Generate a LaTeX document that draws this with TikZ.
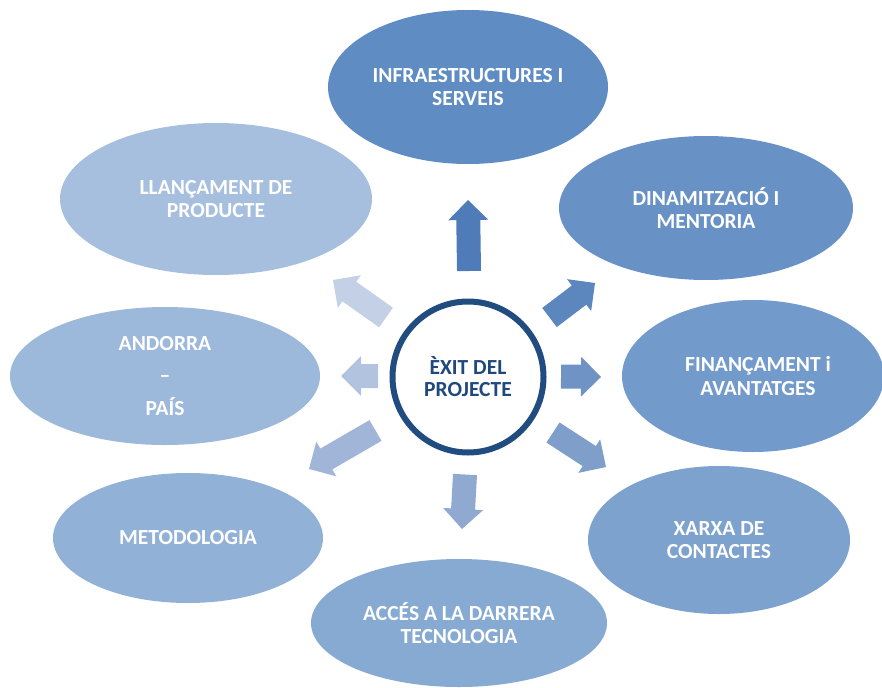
\documentclass[tikz,border=0pt]{standalone}
\usepackage{fontspec}
\setmainfont{Carlito}
\usepackage{tikz}
\usetikzlibrary{shapes.geometric}
\usetikzlibrary{calc}

\definecolor{infracol}{HTML}{5E8CC3}
\definecolor{dinamcol}{HTML}{6892C6}
\definecolor{financol}{HTML}{729ACA}
\definecolor{xarxacol}{HTML}{7DA2CE}
\definecolor{accescol}{HTML}{87AAD3}
\definecolor{metodcol}{HTML}{92B1D7}
\definecolor{andorcol}{HTML}{9CB8DA}
\definecolor{llanccol}{HTML}{A7BFDE}
\definecolor{upcol}{HTML}{4F7CB8}
\definecolor{urcol}{HTML}{5B86BE}
\definecolor{ricol}{HTML}{6F93C5}
\definecolor{lrcol}{HTML}{7F9ECA}
\definecolor{dncol}{HTML}{90A9D1}
\definecolor{llcol}{HTML}{A0B5D8}
\definecolor{lecol}{HTML}{B2C3E0}
\definecolor{ulcol}{HTML}{C3D0E6}
\definecolor{navy}{HTML}{214C80}
\definecolor{navytext}{HTML}{1F497D}

\tikzset{
    bubble/.style={ellipse, fill=#1, text=white, inner sep=0pt, align=center,
        font=\bfseries\fontsize{21.5}{23.5}\selectfont},
    goal/.style={circle, draw=navy, line width=6pt, fill=white, minimum size=151pt,
        inner sep=0pt, align=center, text=navytext,
        font=\bfseries\fontsize{21.5}{22}\selectfont}
}

% block arrow from #2 (tail) to #3 (tip)
\newcommand{\blockarrow}[3]{%
    \coordinate (#2h) at ($(#3)!20pt!(#2)$);
    \fill[#1] ($(#2)!12pt!90:(#3)$) -- ($(#2h)!12pt!90:(#3)$) -- ($(#2h)!20pt!90:(#3)$)
        -- (#3) -- ($(#2h)!20pt!-90:(#3)$) -- ($(#2h)!12pt!-90:(#3)$)
        -- ($(#2)!12pt!-90:(#3)$) -- cycle;
}

\begin{document}
\begin{tikzpicture}[x=1pt, y=-1pt]
    \useasboundingbox (0,0) rectangle (882,687);

    \node(infra) [bubble=infracol, minimum width=280pt, minimum height=154pt] at (468,87) {INFRAESTRUCTURES I\\SERVEIS};
    \node(dinam) [bubble=dinamcol, minimum width=294pt, minimum height=144pt] at (706,208) {DINAMITZACIÓ I\\MENTORIA};
    \node(finan) [bubble=financol, minimum width=262pt, minimum height=152pt] at (753,376) {\hspace{10pt}FINANÇAMENT i\\\hspace{10pt}AVANTATGES};
    \node(xarxa) [bubble=xarxacol, minimum width=262pt, minimum height=148pt] at (719,540) {XARXA DE\\CONTACTES};
    \node(acces) [bubble=accescol, minimum width=296pt, minimum height=128pt] at (459,623) {ACCÉS A LA DARRERA\\TECNOLOGIA};
    \node(metod) [bubble=metodcol, minimum width=270pt, minimum height=130pt] at (188,538) {METODOLOGIA};
    \node(andor) [bubble=andorcol, minimum width=310pt, minimum height=138pt] at (165,376) {ANDORRA\\[9pt]–\\[9pt]PAÍS};
    \node(llanc) [bubble=llanccol, minimum width=312pt, minimum height=152pt] at (216,199) {LLANÇAMENT DE\\PRODUCTE};

    \node(exit) [goal] at (468,377) {ÈXIT DEL\\PROJECTE};

    \coordinate (up) at (469,271);     \coordinate (upt) at (468,200);
    \coordinate (ur) at (549.5,317.5); \coordinate (urt) at (595,283);
    \coordinate (ri) at (561,376.5);   \coordinate (rit) at (601,377);
    \coordinate (lr) at (553,432.5);   \coordinate (lrt) at (606,467);
    \coordinate (dn) at (465,474.5);   \coordinate (dnt) at (462,529);
    \coordinate (ll) at (375.5,430.5); \coordinate (llt) at (309,469);
    \coordinate (le) at (378,376);     \coordinate (let) at (341,376);
    \coordinate (ul) at (386,317.5);   \coordinate (ult) at (333,280);

    \blockarrow{upcol}{up}{upt}
    \blockarrow{urcol}{ur}{urt}
    \blockarrow{ricol}{ri}{rit}
    \blockarrow{lrcol}{lr}{lrt}
    \blockarrow{dncol}{dn}{dnt}
    \blockarrow{llcol}{ll}{llt}
    \blockarrow{lecol}{le}{let}
    \blockarrow{ulcol}{ul}{ult}
\end{tikzpicture}
\end{document}
